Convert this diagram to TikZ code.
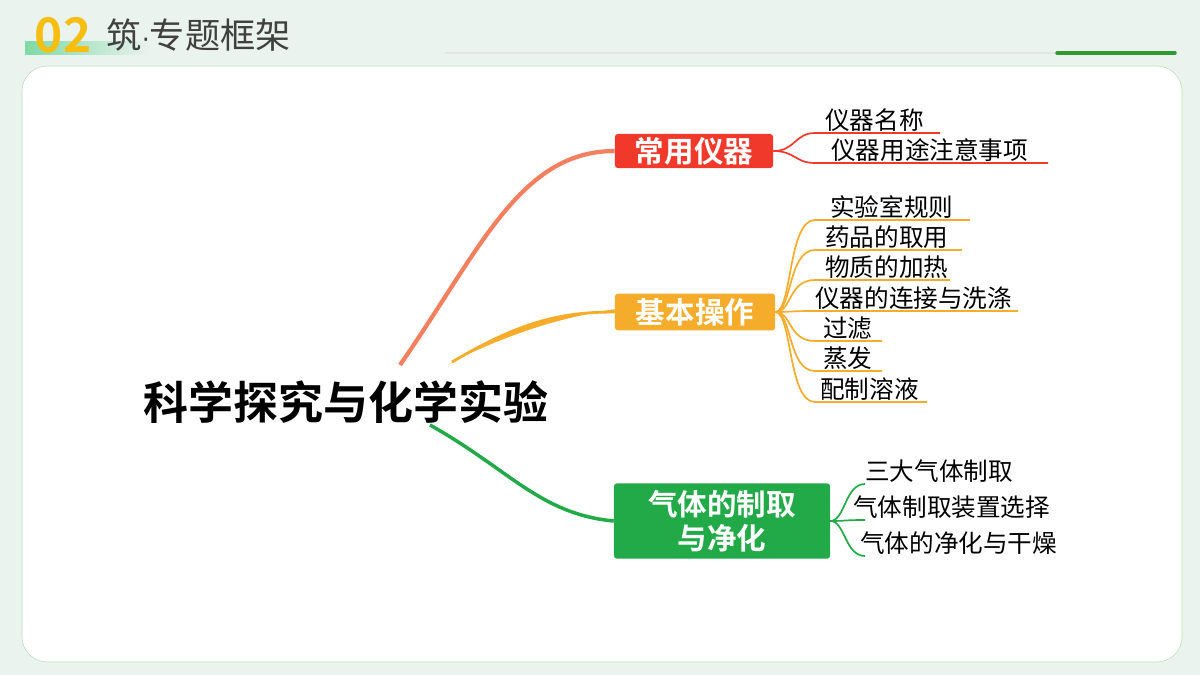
\documentclass[tikz,border=0pt]{standalone}
\usepackage{fontspec}
\newfontfamily\cjk{Noto Sans CJK SC}
\newfontfamily\cjkb{Noto Sans CJK SC Bold}
\newfontfamily\dotfont{DejaVu Sans}
\usetikzlibrary{positioning}
\definecolor{bg}{HTML}{EAF3EE}
\definecolor{redc}{HTML}{F0382B}
\definecolor{orac}{HTML}{F4AC2A}
\definecolor{grnc}{HTML}{22AA48}
\definecolor{salm}{HTML}{F2805E}
\definecolor{gold}{HTML}{F7BE12}
\begin{document}
\begin{tikzpicture}[
                x=0.025cm, y=-0.025cm,
                branch/.style={rounded corners=2pt, text=white, font=\cjkb\fontsize{21}{24}\selectfont, align=center, inner sep=0pt},
                leaf/.style={font=\cjk\fontsize{17.5}{19}\selectfont, anchor=south west, inner sep=0pt},
                twig/.style={line width=1.2pt}
            ]
            % background and card
            \fill[bg] (0,0) rectangle (1200,675);
            \useasboundingbox (0,0) rectangle (1200,675);
            \draw[green!35!gray!40, fill=white, rounded corners=18pt] (22,66) rectangle (1182,662);

            % header
            \fill[left color=green!40!teal!50, right color=bg] (25,42) rectangle (150,55);
            \node[font=\cjkb\fontsize{34}{34}\selectfont, text=gold] (num) at (63,35) {02};
            \node[font=\cjk\fontsize{25}{26}\selectfont, text=black!75, right=4pt of num] (title) {筑{\dotfont\fontsize{18}{20}\selectfont·}专题框架};
            \draw[black!10, line width=1pt] (445,53) -- (1055,53);
            \draw[green!50!black!80, line width=2.5pt, line cap=round] (1057,53) -- (1175,53);

            % root
            \node[font=\cjkb\fontsize{32}{34}\selectfont] (root) at (346,402) {科学探究与化学实验};

            % branches
            \node[branch, fill=redc, minimum width=3.95cm, minimum height=0.85cm] (b1) at (694,151) {常用仪器};
            \node[branch, fill=orac, minimum width=4cm, minimum height=0.92cm] (b2) at (695,312) {基本操作};
            \node[branch, fill=grnc, minimum width=5.4cm, minimum height=1.88cm] (b3) at (722,521) {气体的制取\\与净化};

            % main connectors
            \draw[salm, line width=3pt] (400,365) .. controls (480,250) and (520,151) .. (b1.west);
            \fill[orac] (448,365) .. controls (520,320) and (560,312) .. (b2.west)
                -- ([yshift=2pt]b2.west) .. controls (560,318) and (520,330) .. (455,360) -- cycle;
            \draw[orac, line width=2pt] (452,362) .. controls (520,322) and (560,312) .. (b2.west);
            \draw[grnc, line width=2.5pt] (430,425) .. controls (510,470) and (540,514) .. (b3.west);

            % red leaves
            \foreach \t/\y/\e/\dx in {仪器名称/133/940/10, 仪器用途注意事项/163/1048/16}{
                \node[leaf] (l\y) at (815+\dx,\y-1) {\t};
                \draw[redc, twig] (b1.east) .. controls (795,151) and (795,\y) .. (815,\y) -- (\e,\y);
            }

            % yellow leaves
            \foreach \t/\y/\e/\dx in {实验室规则/220/970/15, 药品的取用/250/962/10, 物质的加热/280/950/10, 仪器的连接与洗涤/311/1018/0, 过滤/341/882/8, 蒸发/371/882/8, 配制溶液/402/927/5}{
                \node[leaf] (y\y) at (815+\dx,\y-1) {\t};
                \draw[orac, twig] (b2.east) .. controls (792,312) and (788,\y) .. (815,\y) -- (\e,\y);
            }

            % green leaves
            \foreach \t/\y/\e/\dx in {三大气体制取/484/1020/50, 气体制取装置选择/520/1055/38, 气体的净化与干燥/556/1060/45}{
                \node[leaf] (g\y) at (815+\dx,\y-1) {\t};
                \draw[grnc, twig] (b3.east) .. controls (845,521) and (845,\y) .. (865,\y);
            }
        \end{tikzpicture}
\end{document}
